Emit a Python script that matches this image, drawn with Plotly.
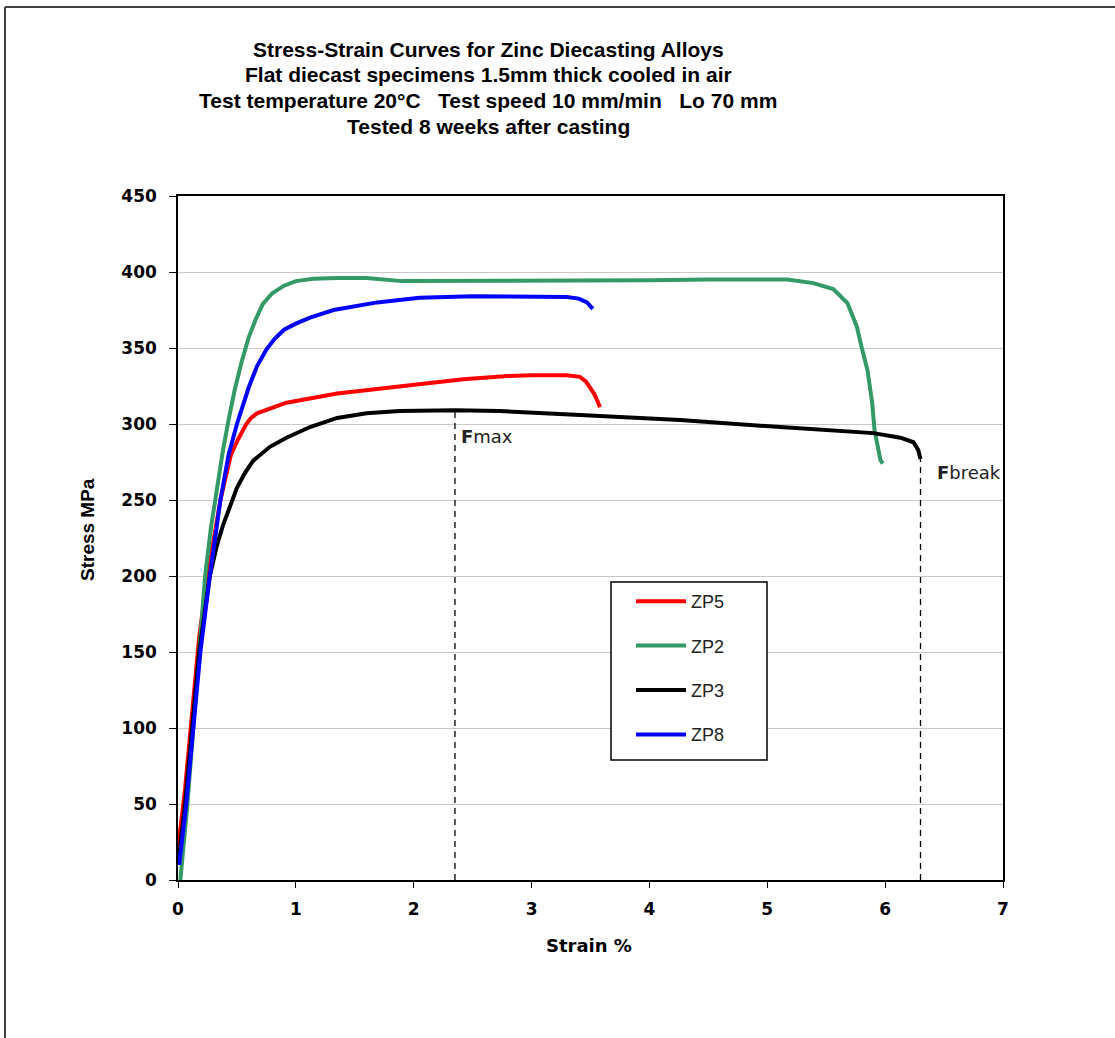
import plotly.graph_objects as go

# ---- data (strain %, stress MPa) ----
zp5_x = [0.0, 0.06, 0.12, 0.18, 0.25, 0.36, 0.45, 0.51, 0.58, 0.62, 0.67, 0.8, 0.92, 1.35, 1.9, 2.42, 2.8, 3.0, 3.3, 3.41, 3.46, 3.5, 3.53, 3.56, 3.58]
zp5_y = [20, 60, 110, 160, 200, 250, 280, 290, 300, 304, 307, 311, 314, 320, 325, 329.5, 331.5, 332, 332, 331, 328, 324, 320, 315, 311]

zp2_x = [0.02, 0.08, 0.13, 0.18, 0.23, 0.28, 0.33, 0.38, 0.43, 0.48, 0.54, 0.6, 0.66, 0.72, 0.8, 0.9, 1.0, 1.15, 1.35, 1.6, 1.9, 2.5, 3.0, 3.5, 4.0, 4.5, 5.0, 5.17, 5.39, 5.56, 5.68, 5.76, 5.8, 5.85, 5.89, 5.91, 5.96, 5.98]
zp2_y = [0, 50, 100, 150, 200, 232, 258, 282, 303, 322, 341, 357, 369, 379, 386, 391, 394, 395.5, 396, 396, 394, 394, 394, 394, 394.5, 395, 395, 395, 392.7, 388.8, 379.6, 364, 350.7, 335.5, 313.8, 296, 276.3, 274]

zp3_x = [0.0, 0.06, 0.12, 0.18, 0.27, 0.33, 0.38, 0.42, 0.46, 0.50, 0.57, 0.64, 0.78, 0.92, 1.12, 1.35, 1.6, 1.88, 2.35, 2.73, 3.41, 4.26, 5.11, 5.5, 5.9, 6.13, 6.24, 6.28, 6.3]
zp3_y = [10, 50, 100, 150, 200, 220, 233, 242, 251, 258, 268, 276, 285, 291, 298, 304, 307, 308.5, 309, 308.5, 306, 302.6, 298, 296, 294, 291, 288, 283, 277]

zp8_x = [0.01, 0.07, 0.13, 0.19, 0.27, 0.36, 0.43, 0.5, 0.6, 0.67, 0.75, 0.82, 0.9, 1.0, 1.12, 1.32, 1.69, 2.05, 2.5, 3.0, 3.3, 3.4, 3.47, 3.52]
zp8_y = [10, 50, 100, 150, 200, 250, 280, 300, 324, 338, 349, 356, 362, 366, 370, 375, 380, 383, 384, 384, 383.5, 382.5, 380, 375.7]

series_names = ["ZP5", "ZP2", "ZP3", "ZP8"]
series_colors = ["#FF0000", "#339966", "#000000", "#0000FF"]

fmax_x = [2.35, 2.35]
fmax_y = [0, 309]
fbreak_x = [6.3, 6.3]
fbreak_y = [0, 280]

x_ticks = [0, 1, 2, 3, 4, 5, 6, 7]
y_ticks = [0, 50, 100, 150, 200, 250, 300, 350, 400, 450]

NB = "\u00a0"
title_lines = [
    "Stress-Strain Curves for Zinc Diecasting Alloys",
    "Flat diecast specimens 1.5mm thick cooled in air",
    "Test temperature 20\u00b0C" + NB * 3 + "Test speed 10 mm/min" + NB * 3 + "Lo 70 mm",
    "Tested 8 weeks after casting",
]

W, H = 1115, 1038
PL, PR, PT, PB = 178, 1003, 196, 880
PW, PH = PR - PL, PB - PT


def px(x):
    return (x - PL) / PW


def py(y):
    return (PB - y) / PH


fig = go.Figure()

for xs, ys in [(fmax_x, fmax_y), (fbreak_x, fbreak_y)]:
    fig.add_trace(go.Scatter(x=xs, y=ys, mode="lines", showlegend=False,
                             line=dict(color="black", width=1.3, dash="6px,5px"),
                             hoverinfo="skip"))

data = [(zp5_x, zp5_y), (zp2_x, zp2_y), (zp3_x, zp3_y), (zp8_x, zp8_y)]
for (xs, ys), name, col in zip(data, series_names, series_colors):
    fig.add_trace(go.Scatter(x=xs, y=ys, mode="lines", name=name,
                             legendgroup=name,
                             line=dict(color=col, width=4)))

title_font = "Liberation Sans, Arial, sans-serif"
wide_font = "DejaVu Sans, Verdana, sans-serif"

fig.update_layout(
    width=W, height=H,
    margin=dict(l=PL, r=W - PR, t=PT, b=H - PB),
    paper_bgcolor="white", plot_bgcolor="white",
    showlegend=True,
    legend=dict(x=px(631), y=py(583), xanchor="left", yanchor="top",
                borderwidth=0, bgcolor="rgba(0,0,0,0)",
                font=dict(family=title_font, size=18, color="#222"),
                traceorder="grouped", tracegroupgap=18, itemwidth=50),
    xaxis=dict(range=[0, 7], tickvals=x_ticks, ticks="outside", ticklen=6,
               tickcolor="black", showline=True, linecolor="black", linewidth=1.5,
               mirror=True, showgrid=False, zeroline=False, ticklabelstandoff=7,
               tickfont=dict(family=wide_font, size=17, color="black", weight="bold")),
    yaxis=dict(range=[0, 450], tickvals=y_ticks, ticks="outside", ticklen=7,
               tickcolor="black", showline=True, linecolor="black", linewidth=1.5,
               mirror=True, showgrid=True, gridcolor="#C8C8C8", gridwidth=1,
               zeroline=False, ticklabelstandoff=9,
               tickfont=dict(family=wide_font, size=17, color="black", weight="bold")),
)

annotations = []
for i, line in enumerate(title_lines):
    annotations.append(dict(text="<b>" + line + "</b>", xref="paper", yref="paper",
                            x=px(488), y=py(49 + i * 25.8),
                            xanchor="center", yanchor="middle", showarrow=False,
                            font=dict(family=title_font, size=21, color="black")))
annotations.append(dict(text="<b>Stress MPa</b>", xref="paper", yref="paper",
                        x=px(87), y=py(530), textangle=-90,
                        xanchor="center", yanchor="middle", showarrow=False,
                        font=dict(family=title_font, size=19, color="black")))
annotations.append(dict(text="<b>Strain %</b>", xref="paper", yref="paper",
                        x=px(589), y=py(945),
                        xanchor="center", yanchor="middle", showarrow=False,
                        font=dict(family=wide_font, size=18, color="black")))
annotations.append(dict(text="<b>F</b>max", x=fmax_x[0], y=fmax_y[1], xref="x", yref="y",
                        xanchor="left", yanchor="top", xshift=4, yshift=-14, showarrow=False,
                        font=dict(family=wide_font, size=18, color="#222")))
annotations.append(dict(text="<b>F</b>break", x=fbreak_x[0], y=fbreak_y[1], xref="x", yref="y",
                        xanchor="left", yanchor="top", xshift=14, yshift=-6, showarrow=False,
                        font=dict(family=wide_font, size=18, color="#222")))
fig.update_layout(annotations=annotations)

# legend frame (white box, drawn above the grid)
fig.add_shape(type="rect", xref="paper", yref="paper",
              x0=px(611), x1=px(767), y0=py(760), y1=py(582),
              line=dict(color="black", width=1.5), fillcolor="white", layer="above")

# outer chart frame (top and left edges visible in the reference)
fig.add_shape(type="line", xref="paper", yref="paper",
              x0=px(5), x1=px(1300), y0=py(7), y1=py(7),
              line=dict(color="#404040", width=2))
fig.add_shape(type="line", xref="paper", yref="paper",
              x0=px(5), x1=px(5), y0=py(7), y1=py(1300),
              line=dict(color="#404040", width=2))

# remove the browser's default 8px body margin so the figure fills the window
fig.write_html("out.html", config={"displayModeBar": False},
               post_script="document.body.style.margin='0';")
